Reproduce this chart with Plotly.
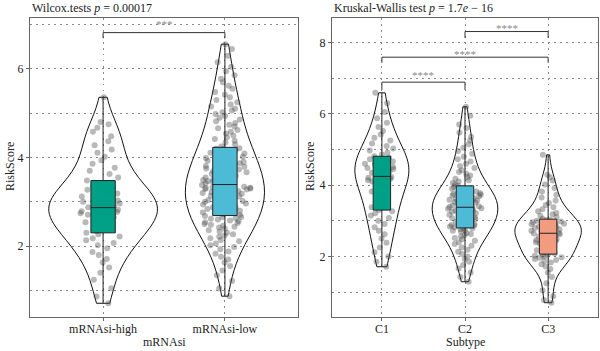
import plotly.graph_objects as go

# ---------------- data ----------------
left_categories = ["mRNAsi-high", "mRNAsi-low"]
right_categories = ["C1", "C2", "C3"]

risk_high = [0.71, 0.86, 1.05, 1.24, 1.40, 1.52, 1.63, 1.71, 1.80, 1.87, 1.95, 2.02, 2.07, 2.13, 2.18, 2.22, 2.27, 2.30,
             2.34, 2.38, 2.42, 2.47, 2.50, 2.54, 2.58, 2.61, 2.65, 2.68, 2.71, 2.74, 2.77, 2.79, 2.82, 2.84, 2.86,
             2.88, 2.91, 2.94, 2.96, 3.00, 3.03, 3.06, 3.08, 3.12, 3.15, 3.19, 3.22, 3.27, 3.31, 3.35, 3.39, 3.42,
             3.48, 3.55, 3.63, 3.70, 3.77, 3.86, 3.94, 4.02, 4.11, 4.18, 4.28, 4.37, 4.48, 4.58, 4.67, 4.75, 4.80, 5.36]

risk_low = [0.87, 1.05, 1.21, 1.34, 1.45, 1.55, 1.63, 1.70, 1.76, 1.83, 1.88, 1.93, 1.98, 2.02, 2.06, 2.11, 2.14, 2.18, 2.21, 2.24,
            2.27, 2.30, 2.33, 2.36, 2.39, 2.42, 2.44, 2.46, 2.48, 2.50, 2.52, 2.54, 2.56, 2.58, 2.60, 2.62, 2.63, 2.65, 2.66, 2.68,
            2.70, 2.72, 2.74, 2.76, 2.78, 2.80, 2.82, 2.84, 2.86, 2.88, 2.90, 2.92, 2.94, 2.96, 2.98, 3.00, 3.02, 3.04, 3.06, 3.08,
            3.10, 3.12, 3.14, 3.16, 3.18, 3.20, 3.22, 3.24, 3.26, 3.27, 3.28, 3.29, 3.30, 3.31, 3.32, 3.33, 3.34, 3.35, 3.36, 3.38,
            3.40, 3.42, 3.45, 3.47, 3.49, 3.51, 3.53, 3.55, 3.57, 3.59, 3.61, 3.63, 3.65, 3.67, 3.69, 3.71, 3.73, 3.75, 3.77, 3.79,
            3.81, 3.83, 3.85, 3.87, 3.90, 3.93, 3.96, 3.99, 4.02, 4.05, 4.07, 4.09, 4.11, 4.13, 4.15, 4.17, 4.18, 4.19, 4.20, 4.21,
            4.25, 4.30, 4.34, 4.38, 4.42, 4.46, 4.50, 4.54, 4.58, 4.62, 4.66, 4.70, 4.74, 4.78, 4.82, 4.86, 4.90, 4.94, 4.98, 5.02,
            5.06, 5.10, 5.15, 5.20, 5.25, 5.30, 5.36, 5.42, 5.48, 5.55, 5.62, 5.70, 5.78, 5.86, 5.95, 6.05, 6.15, 6.30, 6.45, 6.56]

risk_c1 = [1.71, 1.85, 2.00, 2.12, 2.25, 2.38, 2.50, 2.62, 2.72, 2.82, 2.91, 3.00, 3.08, 3.15, 3.21, 3.27,
           3.30, 3.38, 3.46, 3.54, 3.61, 3.68, 3.75, 3.82, 3.88, 3.94, 4.00, 4.05, 4.10, 4.14, 4.18, 4.21, 4.23,
           4.26, 4.31, 4.35, 4.38, 4.42, 4.45, 4.48, 4.51, 4.54, 4.57, 4.60, 4.63, 4.66, 4.70, 4.73, 4.77,
           4.81, 4.86, 4.91, 4.97, 5.03, 5.10, 5.17, 5.25, 5.33, 5.42, 5.52, 5.63, 5.75, 5.88, 6.05, 6.30, 6.59]

risk_c2 = [1.29, 1.42, 1.55, 1.66, 1.76, 1.85, 1.93, 2.00, 2.07, 2.13, 2.19, 2.25, 2.30, 2.35, 2.40, 2.44, 2.48, 2.52, 2.56, 2.60,
           2.63, 2.66, 2.69, 2.72, 2.74, 2.76, 2.78,
           2.80, 2.82, 2.84, 2.86, 2.88, 2.90, 2.93, 2.95, 2.97, 3.00, 3.02, 3.05, 3.07, 3.10, 3.12, 3.14, 3.17, 3.19,
           3.21, 3.23, 3.25, 3.27, 3.29, 3.31, 3.33, 3.34, 3.35, 3.37,
           3.39, 3.41, 3.43, 3.45, 3.47, 3.49, 3.51, 3.53, 3.55, 3.57, 3.59, 3.61, 3.63, 3.65, 3.67, 3.69, 3.71, 3.73,
           3.75, 3.77, 3.79, 3.82, 3.85, 3.88, 3.90, 3.93, 3.95,
           3.98, 4.02, 4.06, 4.10, 4.14, 4.18, 4.22, 4.27, 4.32, 4.37, 4.42, 4.48, 4.54, 4.60, 4.66, 4.73, 4.80, 4.88,
           4.96, 5.05, 5.15, 5.25, 5.36, 5.48, 5.60, 5.70, 5.95, 6.20]

risk_c3 = [0.70, 0.78, 0.88, 1.05, 1.25, 1.42, 1.55, 1.65, 1.72, 1.78, 1.83, 1.87, 1.90, 1.93, 1.96, 1.98, 2.00, 2.02, 2.04, 2.05,
           2.08, 2.11, 2.14, 2.17, 2.20, 2.24, 2.28, 2.32, 2.36, 2.40, 2.43, 2.46, 2.49, 2.52, 2.54, 2.56, 2.58, 2.60, 2.62, 2.64,
           2.66, 2.68, 2.70, 2.72, 2.74, 2.76, 2.78, 2.80, 2.82, 2.84, 2.86, 2.88, 2.90, 2.92, 2.94, 2.96, 2.98, 3.00, 3.02, 3.03,
           3.06, 3.10, 3.14, 3.18, 3.22, 3.27, 3.32, 3.38, 3.44, 3.50, 3.57, 3.65, 3.73, 3.82, 3.92, 4.02, 4.13, 4.22, 4.29, 4.85]

left_values = [risk_high, risk_low]
right_values = [risk_c1, risk_c2, risk_c3]

left_title = "Wilcox.tests <i>p</i> = 0.00017"
right_title = "Kruskal-Wallis test <i>p</i> = 1.7<i>e</i> − 16"

# comparisons: (group a, group b, bracket level, stub end, label)
left_brackets = [("mRNAsi-high", "mRNAsi-low", 6.82, 6.69, "***")]
right_brackets = [("C2", "C3", 8.31, 8.13, "****"),
                  ("C1", "C3", 7.59, 7.43, "****"),
                  ("C1", "C2", 6.89, 6.67, "****")]

# ---------------- styling ----------------
FONT = "Liberation Serif, Times New Roman, Times, serif"
TXT = "#222222"
left_colors = ["#00A087", "#4DBBD5"]
right_colors = ["#00A087", "#4DBBD5", "#F39B7F"]
left_violin_w = [0.89, 0.65]
right_violin_w = [0.65, 0.79, 0.80]
left_label_shift = [9]
right_label_shift = [4, 3.5, 7]
GRID = "#8a8a8a"
GRIDDASH = "1.5px,4.5px"
FRAME = "#666666"

fig = go.Figure()


def add_panel(cats, values, colors, vwidths, boxw, xa, ya):
    for cat, vals, col, vw in zip(cats, values, colors, vwidths):
        xs = [cat] * len(vals)
        fig.add_trace(go.Violin(
            x=xs, y=vals, xaxis=xa, yaxis=ya, width=vw, spanmode="hard",
            fillcolor="rgba(255,255,255,0)", line=dict(color="#111111", width=1),
            points=False, box_visible=False, meanline_visible=False,
            showlegend=False, hoverinfo="skip"))
    for cat, vals in zip(cats, values):
        xs = [cat] * len(vals)
        fig.add_trace(go.Box(
            x=xs, y=vals, xaxis=xa, yaxis=ya, width=0.42,
            boxpoints="all", jitter=1, pointpos=0,
            fillcolor="rgba(0,0,0,0)", line=dict(width=0, color="rgba(0,0,0,0)"),
            marker=dict(color="rgba(70,70,70,0.38)", size=6, line=dict(width=0)),
            showlegend=False, hoverinfo="skip"))
    for cat, vals, col in zip(cats, values, colors):
        xs = [cat] * len(vals)
        fig.add_trace(go.Box(
            x=xs, y=vals, xaxis=xa, yaxis=ya, width=boxw,
            boxpoints=False, whiskerwidth=0, fillcolor=col,
            line=dict(color="#222222", width=1),
            showlegend=False, hoverinfo="skip"))


add_panel(left_categories, left_values, left_colors, left_violin_w, 0.2, "x", "y")
add_panel(right_categories, right_values, right_colors, right_violin_w, 0.21, "x2", "y2")

annotations = []


def add_brackets(cats, brackets, shifts, xa, ya):
    for (a, b, lvl, stub, lab), sh in zip(brackets, shifts):
        fig.add_trace(go.Scatter(
            x=[a, a, b, b], y=[stub, lvl, lvl, stub], xaxis=xa, yaxis=ya,
            mode="lines", line=dict(color="#333333", width=1),
            showlegend=False, hoverinfo="skip"))
        ia, ib = cats.index(a), cats.index(b)
        annotations.append(dict(
            x=(ia + ib) / 2, y=lvl, xref=xa, yref=ya, text=lab, showarrow=False,
            yanchor="middle", yshift=sh, font=dict(family=FONT, size=11, color="#8a8a8a")))


add_brackets(left_categories, left_brackets, left_label_shift, "x", "y")
add_brackets(right_categories, right_brackets, right_label_shift, "x2", "y2")


def txt(x, y, s, size, angle=0, anchor="center"):
    return dict(x=x / 600, y=1 - y / 351, xref="paper", yref="paper", text=s, showarrow=False,
                textangle=angle, xanchor=anchor, yanchor="middle",
                font=dict(family=FONT, size=size, color=TXT))


annotations += [
    txt(30, 8, left_title, 12, anchor="left"),
    txt(332, 8, right_title, 12, anchor="left"),
    txt(10, 167, "RiskScore", 12, angle=-90),
    txt(310, 167, "RiskScore", 12, angle=-90),
    txt(164, 342, "mRNAsi", 12),
    txt(466, 342, "Subtype", 12),
]

xcommon = dict(type="category", showgrid=True, griddash=GRIDDASH, gridcolor=GRID, gridwidth=1,
               showline=True, mirror=True, linecolor=FRAME, linewidth=1.3,
               ticks="outside", ticklen=3, tickcolor=FRAME, automargin=False, zeroline=False,
               ticklabelstandoff=-3,
               tickfont=dict(family=FONT, size=12, color=TXT))
ycommon = dict(showgrid=True, griddash=GRIDDASH, gridcolor=GRID, gridwidth=1,
               showline=True, mirror=True, linecolor=FRAME, linewidth=1.3,
               ticks="outside", ticklen=3, tickcolor=FRAME, automargin=False, zeroline=False,
               tickfont=dict(family=FONT, size=12, color=TXT))

ydom = [1 - 317 / 351, 1 - 18 / 351]

fig.update_layout(
    width=600, height=351, margin=dict(l=0, r=0, t=0, b=0),
    paper_bgcolor="white", plot_bgcolor="white",
    violinmode="overlay", boxmode="overlay",
    xaxis=dict(xcommon, domain=[30 / 600, 298 / 600], range=[-0.6, 1.6],
               categoryorder="array", categoryarray=left_categories, anchor="y"),
    yaxis=dict(ycommon, domain=ydom, range=[0.40, 7.15], tickvals=[2, 4, 6],
               minor=dict(tickvals=[1, 3, 5, 7], showgrid=True, griddash=GRIDDASH, gridcolor=GRID, ticks=""),
               anchor="x"),
    xaxis2=dict(xcommon, domain=[332 / 600, 598 / 600], range=[-0.6, 2.6],
                categoryorder="array", categoryarray=right_categories, anchor="y2"),
    yaxis2=dict(ycommon, domain=ydom, range=[0.30, 8.69], tickvals=[2, 4, 6, 8],
                minor=dict(tickvals=[1, 3, 5, 7], showgrid=True, griddash=GRIDDASH, gridcolor=GRID, ticks=""),
                anchor="x2"),
    annotations=annotations,
)

fig.write_html("out.html")
